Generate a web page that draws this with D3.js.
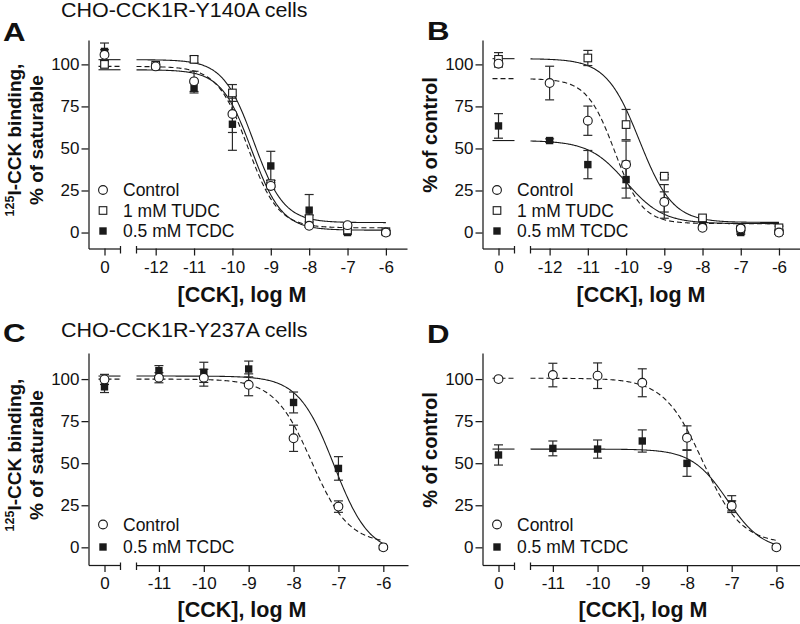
<!DOCTYPE html>
<html><head><meta charset="utf-8">
<script src="https://cdn.jsdelivr.net/npm/d3@7"></script>
<style>body{margin:0;background:#fff} text{font-family:"Liberation Sans",Arial,Helvetica,sans-serif;fill:#111}</style>
</head><body><svg id="c" width="800" height="624"></svg>
<script>
// ---------------- DATA ----------------
const seriesNames = ["Control", "1 mM TUDC", "0.5 mM TCDC"];
const yTicks = [0, 25, 50, 75, 100];
const xTicksAB = [-12, -11, -10, -9, -8, -7, -6];
const xTicksCD = [-11, -10, -9, -8, -7, -6];
const xAB = [0, -12, -11, -10, -9, -8, -7, -6];
const xCD = [0, -11, -10, -9, -8, -7, -6];

// Panel A
const aControl    = [105.7, 98.8, 89.9, 70.5, 27.7, 4.0, 4.4, 0];
const aControlErr = [3, 1, 6, 11, 2, 1, 1, 1];
const aTUDC       = [100, 99.5, 103, 83, 29, 8.3, 1.5, 0.5];
const aTUDCErr    = [2, 1, 2, 5, 2, 2, 1, 1];
const aTCDC       = [107.7, 99, 86, 64.4, 39.6, 13.3, 0, 0];
const aTCDCErr    = [5, 1, 3, 15.5, 8.7, 9.3, 1, 1];
// fits: [top, bottom, logIC50, hill]
const aFitControl = [98.8, 2.8, -9.6, 1.1];
const aFitTUDC    = [102.8, 5.9, -9.45, 1.1];
const aFitTCDC    = [96.8, 1.4, -9.5, 1.1];

// Panel B
const bControl    = [100.4, 88.9, 66.5, 40.4, 18.2, 2.8, 2.4, 0];
const bControlErr = [2, 10, 8.7, 14, 6, 1, 1, 1];
const bTUDC       = [103, null, 103.8, 64.2, 33.5, 8.7, 2, 2.8];
const bTUDCErr    = [4, 0, 4.5, 9, 1, 1, 1, 1];
const bTCDC       = [63.4, 54.7, 40.4, 31.5, 18.5, 5.5, 0, 0];
const bTCDCErr    = [7.3, 1, 8.4, 11, 10, 1, 1, 1];
const bFitControl = [91.5, 5.3, -10.3, 1.2];
const bFitTUDC    = [103.4, 6.0, -9.65, 1.0];
const bFitTCDC    = [54.7, 5.3, -10.0, 0.9];

// Panel C
const cControl    = [99.8, 100.8, 100.8, 96.6, 64.8, 24.2, 0];
const cControlErr = [3, 3, 5, 6.5, 7.8, 3.4, 1];
const cTCDC       = [95.4, 105, 104, 106, 86.1, 46.9, 0];
const cTCDCErr    = [3.4, 3, 6, 4.7, 6.2, 7, 1];
const cFitControl = [100, 2, -7.6, 1.05];
const cFitTCDC    = [101.8, -4, -7.1, 1.1];

// Panel D
const dControl    = [100, 102.4, 102, 97.8, 65.1, 24.6, 0];
const dControlErr = [0, 7, 7.6, 8.3, 7.1, 3, 1];
const dTCDC       = [54.9, 58.8, 58.4, 63.2, 49.9, 25.7, 0];
const dTCDCErr    = [6, 4.4, 5.4, 6.6, 7.7, 5, 1];
const dFitControl = [100.5, 2, -7.65, 1.0];
const dFitTCDC    = [58.4, -2, -7.1, 1.1];

const titleA = "CHO-CCK1R-Y140A cells";
const titleC = "CHO-CCK1R-Y237A cells";
const xLabel = "[CCK], log M";

// ---------------- LAYOUT ----------------
const svg = d3.select("#c");
const INK = "#1a1a1a";

const panels = [
  {letter:"A", ax:88.5, top:40, bottom:248.5, yDom:[-9.5,114.5], segStart:-12.5, xEnd:407,
   xvals:xAB, ticks:xTicksAB, ylab:"binding", ylabX:[21,43], ylabY:140, xlabX:242, xlabY:302,
   legY:[190,210.5,231], series:[
     {name:seriesNames[2], v:aTCDC, e:aTCDCErr, fit:aFitTCDC, sym:"fsq", dash:null},
     {name:seriesNames[1], v:aTUDC, e:aTUDCErr, fit:aFitTUDC, sym:"osq", dash:null},
     {name:seriesNames[0], v:aControl, e:aControlErr, fit:aFitControl, sym:"circ", dash:"5,3"}],
   legOrder:[2,1,0]},
  {letter:"B", ax:482.5, top:40, bottom:248.5, yDom:[-9.5,114.5], segStart:-12.5, xEnd:800,
   xvals:xAB, ticks:xTicksAB, ylab:"control", ylabX:[437], ylabY:135, xlabX:641, xlabY:302,
   legY:[190,210.5,231], series:[
     {name:seriesNames[2], v:bTCDC, e:bTCDCErr, fit:bFitTCDC, sym:"fsq", dash:null},
     {name:seriesNames[1], v:bTUDC, e:bTUDCErr, fit:bFitTUDC, sym:"osq", dash:null},
     {name:seriesNames[0], v:bControl, e:bControlErr, fit:bFitControl, sym:"circ", dash:"5,3"}],
   legOrder:[2,1,0]},
  {letter:"C", ax:88.5, top:353, bottom:565, yDom:[-10.5,115.5], segStart:-11.5, xEnd:408,
   xvals:xCD, ticks:xTicksCD, ylab:"binding", ylabX:[21,43], ylabY:455, xlabX:242, xlabY:617,
   legY:[524.5,547], series:[
     {name:seriesNames[2], v:cTCDC, e:cTCDCErr, fit:cFitTCDC, sym:"fsq", dash:null},
     {name:seriesNames[0], v:cControl, e:cControlErr, fit:cFitControl, sym:"circ", dash:"5,3"}],
   legOrder:[1,0]},
  {letter:"D", ax:482.5, top:353, bottom:565, yDom:[-10.5,115.5], segStart:-11.5, xEnd:801,
   xvals:xCD, ticks:xTicksCD, ylab:"control", ylabX:[437], ylabY:450, xlabX:643, xlabY:617,
   legY:[524.5,547], series:[
     {name:seriesNames[2], v:dTCDC, e:dTCDCErr, fit:dFitTCDC, sym:"fsq", dash:null},
     {name:seriesNames[0], v:dControl, e:dControlErr, fit:dFitControl, sym:"circ", dash:"5,3"}],
   legOrder:[1,0]}
];

const letterPos = {A:[3,41], B:[427,40], C:[3,342], D:[427,343]};

function drawSym(g, sym, x, y) {
  if (sym === "circ") {
    g.append("circle").attr("cx", x).attr("cy", y).attr("r", 4.4)
      .attr("fill", "#fff").attr("stroke", INK).attr("stroke-width", 1.1);
  } else if (sym === "osq") {
    g.append("rect").attr("x", x-3.8).attr("y", y-3.8).attr("width", 7.6).attr("height", 7.6)
      .attr("fill", "#fff").attr("stroke", INK).attr("stroke-width", 1.1);
  } else {
    g.append("rect").attr("x", x-3.7).attr("y", y-3.7).attr("width", 7.4).attr("height", 7.4)
      .attr("fill", INK);
  }
}

function logistic(p, x) {
  const [top, bot, ic, h] = p;
  return bot + (top - bot) / (1 + Math.pow(10, h * (x - ic)));
}

panels.forEach(P => {
  const g = svg.append("g");
  const x0 = P.ax + 16, brk1 = P.ax + 32, brk2 = P.ax + 48;
  const ys = d3.scaleLinear().domain(P.yDom).range([P.bottom, P.top]);
  const xs = d3.scaleLinear().domain([P.segStart, -5.45]).range([brk2, P.xEnd]);
  const xs0 = d3.scaleLinear().domain([-1, 1]).range([P.ax, brk1]);
  const xpos = v => v === 0 ? xs0(0) : xs(v);

  // y axis
  const yAx = g.append("g").attr("transform", `translate(${P.ax},0)`)
    .call(d3.axisLeft(ys).tickValues(yTicks).tickSize(7).tickSizeOuter(0).tickPadding(2));
  // x axis two segments
  const xAx1 = g.append("g").attr("transform", `translate(0,${P.bottom})`)
    .call(d3.axisBottom(xs0).tickValues([0]).tickSize(7).tickSizeOuter(0).tickPadding(5).tickFormat(d => String(d)));
  const xAx2 = g.append("g").attr("transform", `translate(0,${P.bottom})`)
    .call(d3.axisBottom(xs).tickValues(P.ticks).tickSize(7).tickSizeOuter(0).tickPadding(5).tickFormat(d => String(d)));
  [yAx, xAx1, xAx2].forEach(a => {
    a.selectAll("path,line").attr("stroke", INK).attr("stroke-width", 1.25);
    a.selectAll("text").attr("font-size", 17).attr("fill", "#111")
      .attr("font-family", '"Liberation Sans",Arial,sans-serif');
  });
  // break marks
  [brk1, brk2].forEach(bx => {
    g.append("line").attr("x1", bx).attr("x2", bx).attr("y1", P.bottom - 2.5).attr("y2", P.bottom + 5)
      .attr("stroke", INK).attr("stroke-width", 1.25);
  });

  // curves
  P.series.forEach(S => {
    const pts = d3.range(P.segStart, -6 + 1e-9, 0.02).map(x => [xs(x), ys(logistic(S.fit, x))]);
    g.append("path").attr("d", d3.line()(pts)).attr("fill", "none").attr("stroke", INK)
      .attr("stroke-width", 1.1).attr("stroke-dasharray", S.dash);
    const topY = ys(logistic(S.fit, P.segStart - 3));
    g.append("line").attr("x1", x0 - 6).attr("x2", brk1).attr("y1", topY).attr("y2", topY)
      .attr("stroke", INK).attr("stroke-width", 1.1).attr("stroke-dasharray", S.dash);
  });

  // error bars
  P.series.forEach(S => {
    S.v.forEach((v, i) => {
      if (v === null || !S.e[i]) return;
      const cx = xpos(P.xvals[i]);
      const y1 = ys(v + S.e[i]), y2 = ys(v - S.e[i]);
      g.append("line").attr("x1", cx).attr("x2", cx).attr("y1", y1).attr("y2", y2)
        .attr("stroke", "#2a2a2a").attr("stroke-width", 1.2);
      [y1, y2].forEach(yy => g.append("line").attr("x1", cx - 4.5).attr("x2", cx + 4.5)
        .attr("y1", yy).attr("y2", yy).attr("stroke", "#2a2a2a").attr("stroke-width", 1.2));
    });
  });
  // markers
  P.series.forEach(S => {
    S.v.forEach((v, i) => {
      if (v === null) return;
      drawSym(g, S.sym, xpos(P.xvals[i]), ys(v));
    });
  });

  // legend
  P.legOrder.forEach((si, k) => {
    const S = P.series[si];
    const ly = P.legY[k];
    drawSym(g, S.sym, P.ax + 14.5, ly);
    g.append("text").attr("x", P.ax + 34.5).attr("y", ly + 6).attr("font-size", 17.5).text(S.name);
  });

  // y label
  if (P.ylab === "binding") {
    const t1 = g.append("text").attr("transform", `translate(${P.ylabX[0]},${P.ylabY}) rotate(-90)`)
      .attr("text-anchor", "middle").attr("font-size", 19).attr("font-weight", "bold");
    t1.append("tspan").attr("font-size", 12.5).attr("dy", -7).text("125");
    t1.append("tspan").attr("dy", 7).text("I-CCK binding,");
    g.append("text").attr("transform", `translate(${P.ylabX[1]},${P.ylabY}) rotate(-90)`)
      .attr("text-anchor", "middle").attr("font-size", 19).attr("font-weight", "bold").text("% of saturable");
  } else {
    g.append("text").attr("transform", `translate(${P.ylabX[0]},${P.ylabY}) rotate(-90)`)
      .attr("text-anchor", "middle").attr("font-size", 20).attr("font-weight", "bold").text("% of control");
  }
  // x label
  g.append("text").attr("x", P.xlabX).attr("y", P.xlabY).attr("text-anchor", "middle")
    .attr("font-size", 21.5).attr("font-weight", "bold").text(xLabel);

  // panel letter
  const lp = letterPos[P.letter];
  g.append("text").attr("transform", `translate(${lp[0]},${lp[1]}) scale(1.2,1)`)
    .attr("font-size", 26).attr("font-weight", "bold").text(P.letter);
});

// titles
svg.append("text").attr("transform", "translate(61,17) scale(1.1,1)").attr("font-size", 19.5).text(titleA);
svg.append("text").attr("transform", "translate(61,337) scale(1.1,1)").attr("font-size", 19.5).text(titleC);
</script>
</body></html>
